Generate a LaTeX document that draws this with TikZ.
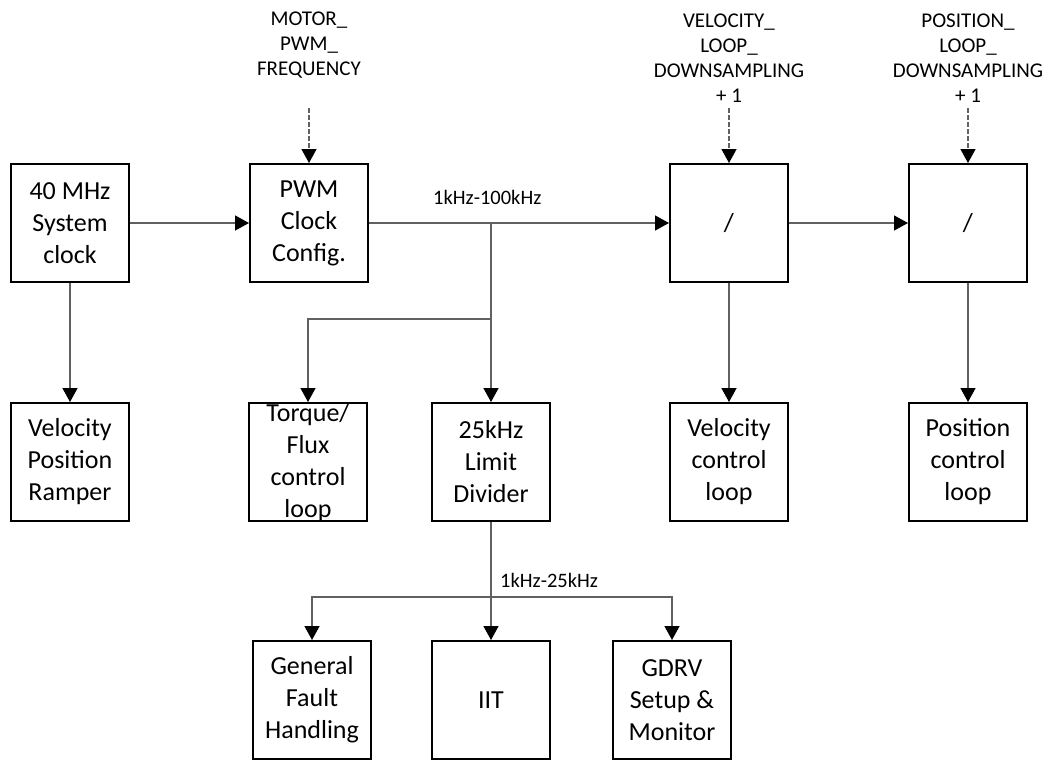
\documentclass[tikz,border=0pt]{standalone}
\usepackage{fontspec}
\setmainfont{Carlito}
\usetikzlibrary{arrows.meta}
\begin{document}
\begin{tikzpicture}[x=1pt,y=-1pt,
  blk/.style={draw=black, line width=2pt, minimum width=118pt, minimum height=118pt,
              inner sep=0pt, align=center, font=\fontsize{26}{32}\selectfont},
  blktext/.style={inner sep=0pt, align=center, font=\fontsize{26}{32}\selectfont},
  wire/.style={draw=black!62, line width=1.4pt},
  tip/.style={-{Triangle[length=14pt,width=15pt,fill=black,color=black]}},
  flow/.style={wire, tip},
  param/.style={draw=black!62, line width=1.4pt, dash pattern=on 4.5pt off 2.5pt, tip},
  lbl/.style={align=center, inner sep=0pt, font=\fontsize{21}{25}\selectfont},
  freq/.style={anchor=west, inner sep=0pt, font=\fontsize{20.5}{24}\selectfont}]
\useasboundingbox (0,0) rectangle (1050,761);

% first row: clock sources and divider stages
\node[blk] (sys)  at (70,223)  {40 MHz\\System\\clock};
\node[blk] (pwm)  at (309,223) {PWM\\Clock\\Config.};
\node[blk] (vdiv) at (729,223) {/};
\node[blk] (pdiv) at (968,223) {/};

% second row: consumers of the PWM clock
\node[blk] (ramp) at (70,462)  {Velocity\\Position\\Ramper};
\node[blk] (tq)   at (308,462) {};
\node[blktext] (tqtext) at (308,463) {Torque/\\Flux\\control\\loop};
\node[blk] (lim)  at (491,462) {25kHz\\Limit\\Divider};
\node[blk] (vcl)  at (729,462) {Velocity\\control\\loop};
\node[blk] (pcl)  at (968,462) {Position\\control\\loop};

% third row: tasks running at the limited rate
\node[blk] (gfh)  at (312,700) {General\\Fault\\Handling};
\node[blk] (iit)  at (491,700) {IIT};
\node[blk] (gdrv) at (672,700) {GDRV\\Setup \&\\Monitor};

% parameter inputs
\node[lbl] (mpf) at (309,45) {MOTOR\_\\PWM\_\\FREQUENCY};
\node[lbl] (vld) at (729,58) {VELOCITY\_\\LOOP\_\\DOWNSAMPLING\\+ 1};
\node[lbl] (pld) at (968,58) {POSITION\_\\LOOP\_\\DOWNSAMPLING\\+ 1};
\coordinate (mpfend) at (309,108);
\coordinate (vldend) at (729,108);
\coordinate (pldend) at (968,108);
\draw[param] (mpfend) -- (pwm.north);
\draw[param] (vldend) -- (vdiv.north);
\draw[param] (pldend) -- (pdiv.north);

% frequency annotations
\node[freq] (f1) at (433,197) {1kHz-100kHz};
\node[freq] (f2) at (500,580) {1kHz-25kHz};

% clock distribution
\coordinate (tqsplit) at (491,319);
\coordinate (lowsplit) at (491,597);
\draw[flow] (sys) -- (pwm);
\draw[flow] (sys) -- (ramp);
\draw[flow] (pwm.east) -- (vdiv.west);
\draw[flow] (pwm.east) -| (lim.north);
\draw[flow] (tqsplit) -| (tq.north);
\draw[flow] (vdiv) -- (pdiv);
\draw[flow] (vdiv) -- (vcl);
\draw[flow] (pdiv) -- (pcl);
\draw[flow] (lim) -- (iit);
\draw[flow] (lowsplit) -| (gfh.north);
\draw[flow] (lowsplit) -| (gdrv.north);
\end{tikzpicture}
\end{document}
